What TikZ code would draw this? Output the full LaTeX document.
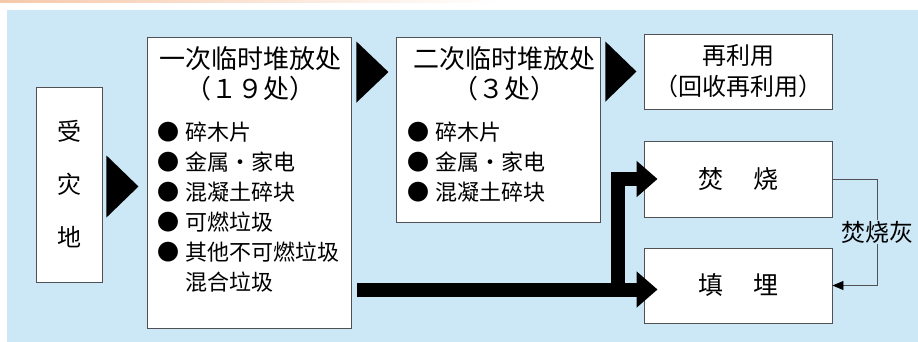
\documentclass[tikz,border=0pt]{standalone}
\usepackage{fontspec}
\setmainfont{Noto Sans CJK SC}
\usetikzlibrary{calc,arrows.meta}
\tikzset{>=stealth}
\definecolor{skyback}{RGB}{204,232,246}
\definecolor{edgegray}{RGB}{80,80,85}
\definecolor{topband}{RGB}{246,200,170}

\begin{document}
\begin{tikzpicture}[x=1pt,y=-1pt,
    box/.style={draw=edgegray, line width=0.9pt, fill=white, inner sep=0pt, align=center},
    item/.style={inner sep=0pt, text height=0.88em, text depth=0.12em, font=\fontsize{22pt}{30pt}\selectfont},
    head/.style={inner sep=0pt, text height=0.88em, text depth=0.12em, font=\fontsize{26pt}{30pt}\selectfont},
    big/.style={line width=14pt, line join=miter, -{Triangle[length=21pt,width=35pt]}},
    ashline/.style={draw=edgegray, line width=0.8pt}]
    \useasboundingbox (0,0) rectangle (918,342);
    \fill[white] (0,0) rectangle (918,342);
    \shade[left color=topband, right color=white] (0,0) rectangle (500,3);
    \fill[skyback] (7,10) rectangle (918,342);

    % boxes
    \node[box, minimum width=66pt, minimum height=195pt, font=\fontsize{24pt}{53pt}\selectfont] (site) at (69,184.5) {受\\灾\\地};
    \node[box, minimum width=204pt, minimum height=291pt] (heap1) at (249,182.5) {};
    \node[box, minimum width=204pt, minimum height=185pt] (heap2) at (498,129.5) {};
    \node[box, minimum width=188pt, minimum height=75pt, font=\fontsize{24pt}{31pt}\selectfont] (reuse) at (738,71.5) {再利用\\（回收再利用）};
    \node[box, minimum width=188pt, minimum height=76pt, font=\fontsize{25pt}{30pt}\selectfont] (burn) at (738,179) {焚\hspace{30pt}烧};
    \node[box, minimum width=188pt, minimum height=75pt, font=\fontsize{25pt}{30pt}\selectfont] (fill) at (738,285.5) {填\hspace{30pt}埋};

    % first heap
    \node[head] (h1a) at (250,65) {一次临时堆放处};
    \node[head] (h1b) at (250,95) {（１９处）};
    \foreach \t [count=\i] in {碎木片, 金属・家电, 混凝土碎块, 可燃垃圾, 其他不可燃垃圾}
        \node[item, anchor=west] (a\i) at (157,107+30*\i) {●\hspace{6pt}\t};
    \node[item, anchor=west] (a6) at ($(a5.west)+(28,30)$) {混合垃圾};

    % second heap
    \node[head] (h2a) at (504,65) {二次临时堆放处};
    \node[head] (h2b) at (504,95) {（３处）};
    \foreach \t [count=\i] in {碎木片, 金属・家电, 混凝土碎块}
        \node[item, anchor=west] (b\i) at (407,107+30*\i) {●\hspace{6pt}\t};

    % triangles
    \fill ($(site.east)+(4,-29)$) -- ++(32,31) -- ++(-32,31) -- cycle;
    \fill ($(heap1.north east)+(5,5)$) -- ++(32,30.5) -- ++(-32,30.5) -- cycle;
    \fill ($(heap2.north east)+(5,5)$) -- ++(31,30) -- ++(-31,30) -- cycle;

    % thick arrows
    \coordinate (start) at ($(heap1.east |- fill.west)+(6,4)$);
    \draw[big] (start) -- ($(start -| fill.west)+(14,0)$);
    \draw[big] ($(start -| fill.west)+(-26,0)$) |- ($(burn.west)+(14,0)$);

    % ash
    \node[fill=skyback, inner sep=1pt, font=\fontsize{24pt}{30pt}\selectfont] (ash) at (877,232) {焚烧灰};
    \draw[ashline] (burn.east) -| (ash.north);
    \draw[ashline, -{Triangle[length=11pt,width=9pt,color=black]}] (ash.south) |- (fill.east);
\end{tikzpicture}
\end{document}
